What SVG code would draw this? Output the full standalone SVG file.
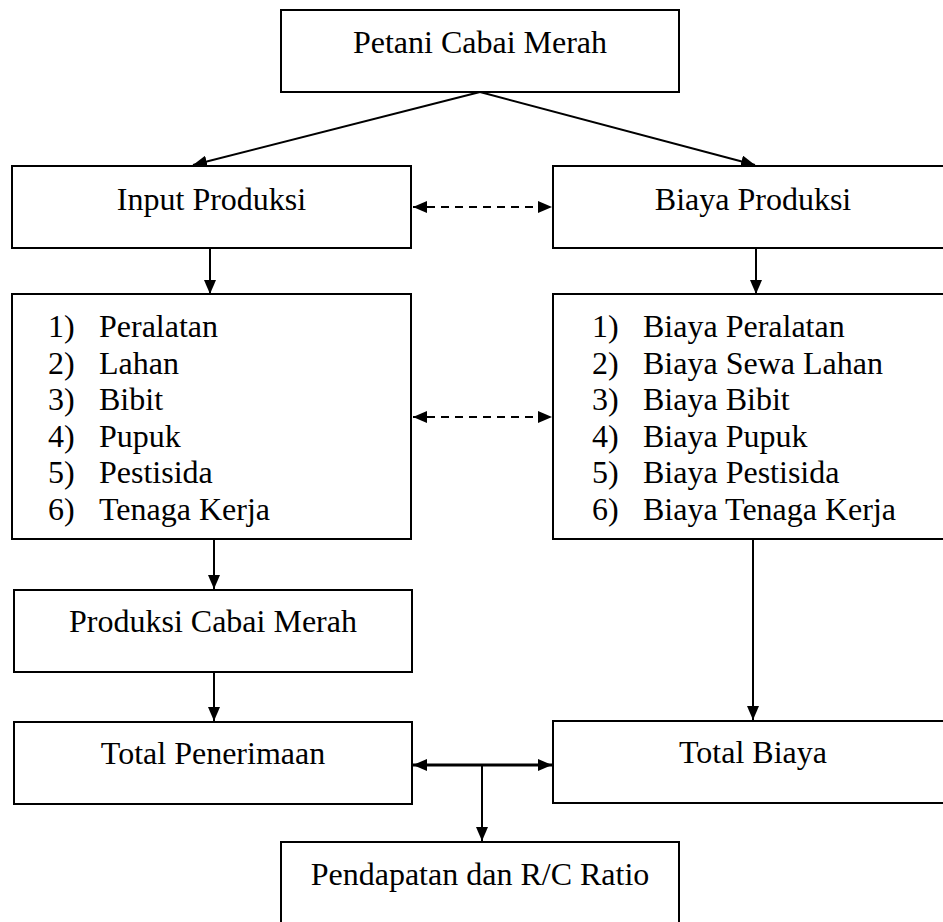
<svg xmlns="http://www.w3.org/2000/svg" width="943" height="922" viewBox="0 0 943 922">
<style>
.box{fill:#fff;stroke:#000;stroke-width:2}
.t{font-family:"Liberation Serif","Times New Roman",serif;font-size:32px;fill:#000}
.c{text-anchor:middle}
.ln{fill:none;stroke:#000;stroke-width:2}
.dash{stroke-dasharray:8 6}
.thick{stroke-width:3}
</style>
<defs>
<marker id="ah" markerUnits="userSpaceOnUse" markerWidth="15" markerHeight="12" refX="14" refY="6" orient="auto-start-reverse">
<path d="M0,0 L14,6 L0,12 Z" fill="#000"/>
</marker>
</defs>
<rect width="943" height="922" fill="#fff"/>
<g id="petani"><rect class="box" x="281" y="10" width="398" height="82"/><text class="t c" x="480" y="53">Petani Cabai Merah</text></g>
<g id="input"><rect class="box" x="12" y="166" width="399" height="82"/><text class="t c" x="211.5" y="210">Input Produksi</text></g>
<g id="biaya"><rect class="box" x="553" y="166" width="400" height="82"/><text class="t c" x="753" y="210">Biaya Produksi</text></g>
<g id="inputList"><rect class="box" x="12" y="294" width="399" height="245"/>
<text class="t" y="337"><tspan x="48">1)</tspan><tspan x="99">Peralatan</tspan></text>
<text class="t" y="373.5"><tspan x="48">2)</tspan><tspan x="99">Lahan</tspan></text>
<text class="t" y="410"><tspan x="48">3)</tspan><tspan x="99">Bibit</tspan></text>
<text class="t" y="446.5"><tspan x="48">4)</tspan><tspan x="99">Pupuk</tspan></text>
<text class="t" y="483"><tspan x="48">5)</tspan><tspan x="99">Pestisida</tspan></text>
<text class="t" y="519.5"><tspan x="48">6)</tspan><tspan x="99">Tenaga Kerja</tspan></text>
</g>
<g id="biayaList"><rect class="box" x="553" y="294" width="400" height="245"/>
<text class="t" y="337"><tspan x="592">1)</tspan><tspan x="643">Biaya Peralatan</tspan></text>
<text class="t" y="373.5"><tspan x="592">2)</tspan><tspan x="643">Biaya Sewa Lahan</tspan></text>
<text class="t" y="410"><tspan x="592">3)</tspan><tspan x="643">Biaya Bibit</tspan></text>
<text class="t" y="446.5"><tspan x="592">4)</tspan><tspan x="643">Biaya Pupuk</tspan></text>
<text class="t" y="483"><tspan x="592">5)</tspan><tspan x="643">Biaya Pestisida</tspan></text>
<text class="t" y="519.5"><tspan x="592">6)</tspan><tspan x="643">Biaya Tenaga Kerja</tspan></text>
</g>
<g id="produksi"><rect class="box" x="14" y="590" width="398" height="82"/><text class="t c" x="213" y="632">Produksi Cabai Merah</text></g>
<g id="penerimaan"><rect class="box" x="14" y="722" width="398" height="82"/><text class="t c" x="213" y="764">Total Penerimaan</text></g>
<g id="totalBiaya"><rect class="box" x="553" y="721" width="400" height="82"/><text class="t c" x="753" y="763">Total Biaya</text></g>
<g id="pendapatan"><rect class="box" x="281" y="842" width="398" height="100"/><text class="t c" x="480" y="885">Pendapatan dan R/C Ratio</text></g>
<g id="connectors">
<line class="ln" x1="480" y1="92" x2="193" y2="165" marker-end="url(#ah)"/>
<line class="ln" x1="480" y1="92" x2="755" y2="165" marker-end="url(#ah)"/>
<line class="ln dash" x1="413" y1="207" x2="552" y2="207" marker-start="url(#ah)" marker-end="url(#ah)"/>
<line class="ln" x1="210" y1="248" x2="210" y2="294" marker-end="url(#ah)"/>
<line class="ln" x1="756" y1="248" x2="756" y2="294" marker-end="url(#ah)"/>
<line class="ln dash" x1="413" y1="417" x2="552" y2="417" marker-start="url(#ah)" marker-end="url(#ah)"/>
<line class="ln" x1="214" y1="540" x2="214" y2="589" marker-end="url(#ah)"/>
<line class="ln" x1="214" y1="672" x2="214" y2="721" marker-end="url(#ah)"/>
<line class="ln" x1="753" y1="540" x2="753" y2="720" marker-end="url(#ah)"/>
<line class="ln thick" x1="413" y1="765" x2="552" y2="765" marker-start="url(#ah)" marker-end="url(#ah)"/>
<line class="ln" x1="482" y1="766" x2="482" y2="841" marker-end="url(#ah)"/>
</g>
</svg>
